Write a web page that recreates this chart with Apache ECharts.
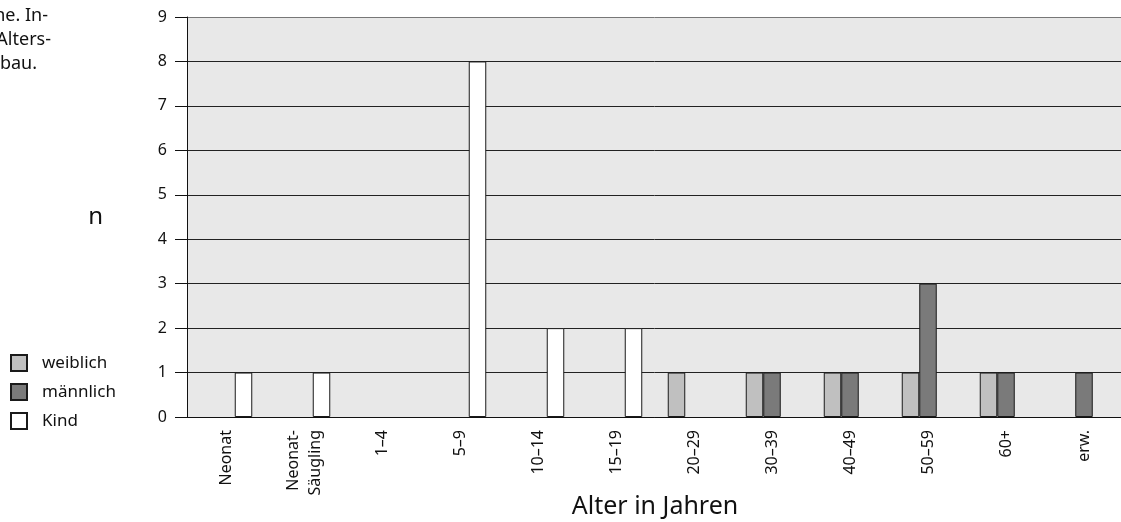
<!DOCTYPE html>
<html>
<head>
<meta charset="utf-8">
<script src="https://cdn.jsdelivr.net/npm/echarts@6/dist/echarts.min.js"></script>
<style>
  html, body { margin: 0; padding: 0; background: #fff; }
  #chart { width: 1121px; height: 522px; }
</style>
</head>
<body>
<div id="chart"></div>
<script>
var categories = ['Neonat', 'Neonat-\nSäugling', '1–4', '5–9', '10–14', '15–19', '20–29', '30–39', '40–49', '50–59', '60+', 'erw.'];
var weiblich = [null, null, null, null, null, null, 1, 1, 1, 1, 1, null];
var maennlich = [null, null, null, null, null, null, null, 1, 1, 3, 1, 1];
var kind = [1, 1, null, 8, 2, 2, null, null, null, null, null, null];
var captionLines = ['ne. In-', 'Alters-', 'bau.'];

var font = 'Noto Sans';
var chart = echarts.init(document.getElementById('chart'));

// grid line colours, the top one (9) is lighter
var splitColors = [];
for (var i = 0; i < 10; i++) splitColors.push(i === 9 ? '#777' : '#222');

function bar(name, data, color) {
  return {
    name: name,
    type: 'bar',
    data: data,
    barWidth: 17.5,
    barGap: '0%',
    itemStyle: { color: color, borderColor: '#1a1a1a', borderWidth: 1 }
  };
}

chart.setOption({
  animation: false,
  textStyle: { fontFamily: font },
  grid: {
    left: 187, top: 17, width: 936, height: 400,
    outerBoundsMode: 'none',
    show: true, backgroundColor: '#e8e8e8', borderWidth: 0
  },
  legend: {
    orient: 'vertical',
    left: 10, top: 354, padding: 0,
    itemWidth: 16, itemHeight: 16, itemGap: 11,
    icon: 'rect',
    textStyle: { fontSize: 17, color: '#111', fontFamily: font, padding: [0, 0, 0, 10] },
    data: ['weiblich', 'männlich', 'Kind']
  },
  graphic: captionLines.map(function (t, i) {
    var rights = [48, 51, 37];
    return {
      type: 'text', right: 1121 - rights[i], top: 7 + i * 24,
      style: { text: t, fontSize: 18, fontFamily: font, fill: '#111' }
    };
  }),
  xAxis: {
    type: 'category',
    data: categories,
    name: 'Alter in Jahren',
    nameLocation: 'middle',
    nameGap: 77,
    nameMoveOverlap: false,
    nameTextStyle: { fontSize: 25, color: '#111' },
    axisLine: { lineStyle: { color: '#111', width: 1 } },
    axisTick: { length: 10, interval: 0, lineStyle: { color: '#777', width: 2 } },
    axisLabel: { rotate: 90, interval: 0, margin: 13, fontSize: 16, color: '#111', lineHeight: 22 },
    splitLine: { show: false }
  },
  yAxis: {
    type: 'value',
    min: 0, max: 9, interval: 1,
    name: 'n',
    nameLocation: 'middle',
    nameRotate: 0,
    nameGap: 84,
    nameMoveOverlap: false,
    nameTextStyle: { fontSize: 24, color: '#111' },
    axisLine: { show: true, lineStyle: { color: '#111', width: 1 } },
    axisTick: { show: true, length: 12, lineStyle: { color: '#111' } },
    axisLabel: { margin: 20, fontSize: 16, color: '#111' },
    splitLine: { show: true, lineStyle: { color: splitColors, width: 1 } }
  },
  series: [
    bar('weiblich', weiblich, '#c0c0c0'),
    bar('männlich', maennlich, '#7a7a7a'),
    bar('Kind', kind, '#ffffff')
  ]
});
</script>
</body>
</html>
